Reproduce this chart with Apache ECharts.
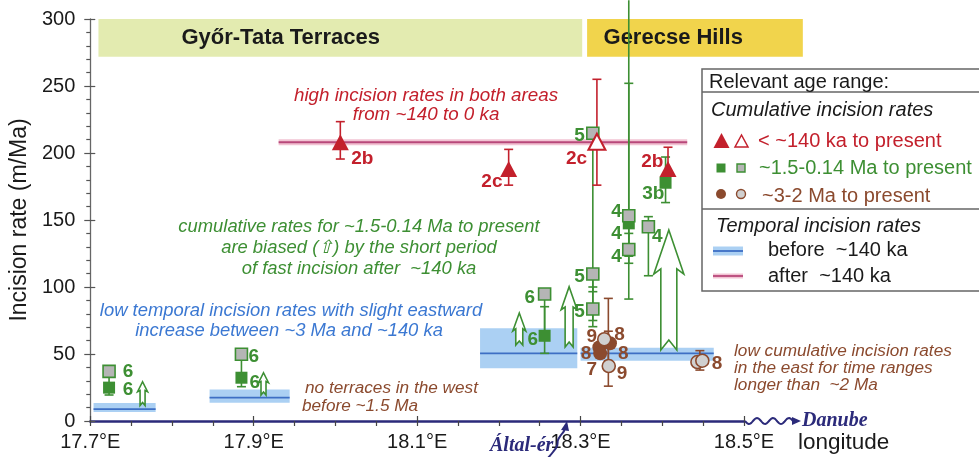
<!DOCTYPE html>
<html><head><meta charset="utf-8">
<script src="https://cdn.jsdelivr.net/npm/echarts@6/dist/echarts.min.js"></script>
<style>html,body{margin:0;padding:0;background:#fff}#c{width:979px;height:457px}</style>
</head><body><div id="c"></div>
<script>
// ---------------- DATA ----------------
const xTickValues = [17.7,17.75,17.8,17.85,17.9,17.95,18.0,18.05,18.1,18.15,18.2,18.25,18.3,18.35,18.4,18.45,18.5];
const xLabelValues = [17.7,17.9,18.1,18.3,18.5];
const yLabelValues = [0,50,100,150,200,250,300];

const regionNames = ['Győr-Tata Terraces','Gerecse Hills'];
const regionX0 = [17.71, 18.308];
const regionX1 = [18.302, 18.572];
const regionY0 = [271.9, 271.9];
const regionY1 = [300, 300];
const regionTextX = [17.933, 18.4134];

// temporal incision rates before ~140 ka (band = range, mid = line)
const bandX0 = [17.704, 17.846, 18.177, 18.300];
const bandX1 = [17.780, 17.944, 18.296, 18.463];
const bandLow = [6.7, 13.6, 39.3, 45.0];
const bandHigh = [13.4, 23.6, 69.2, 54.7];
const bandMid = [8.8, 17.4, 50.5, 50.5];

// temporal incision rate after ~140 ka
const afterX = [17.9305, 18.4305];
const afterRate = [208, 208];

// cumulative rates < ~140 ka to present
const redFilled = [[18.006,208],[18.212,188],[18.407,188]];
const redOpen = [[18.320,208.4]];
const redErr = [[18.006,195.5,223.4],[18.212,176,202.7],[18.320,176,255],[18.407,186,204.3]];
const redLabels = [[18.0329,196,'2b'],[18.1915,178.6,'2c'],[18.2951,195.5,'2c'],[18.3878,193.5,'2b']];

// cumulative rates ~1.5-0.14 Ma to present
const greenFilled = [[17.723,24.9],[17.885,32.3],[18.256,63.6],[18.359,147.5],[18.404,177.8]];
const greenGrey = [[17.723,37],[17.885,49.8],[18.256,94.8],[18.315,214.7],[18.315,109.7],[18.315,83.6],[18.359,153.2],[18.359,128],[18.383,145]];
const greenErr = [[17.723,19.4,37],[17.885,25.6,49.8],[18.256,50.5,94.8],[18.256,63.6,85.3],
  [18.315,70.4,214.7],[18.315,75,100],[18.315,96.5,109.7],
  [18.359,91,314],[18.359,117.7,140],[18.359,123,252],
  [18.383,108.4,152.5],[18.404,163,197]];
const greenLabels = [[17.7463,36.6,'6'],[17.7463,23.1,'6'],[17.9,47.8,'6'],[17.9012,28.4,'6'],
  [18.2378,91.8,'6'],[18.2415,60.4,'6'],[18.2988,212.7,'5'],[18.2988,107.5,'5'],[18.2988,81.3,'5'],
  [18.3439,156,'4'],[18.3439,139.6,'4'],[18.3439,122.4,'4'],[18.3939,137.5,'4'],[18.389,169.4,'3b']];
// open arrows: [x, from, to, size class]
const arrows = [[17.764,11.5,29.3,0],[17.912,19.4,36,0],[18.225,56.7,80.6,1],[18.286,55.2,100.2,2],[18.408,53,142.5,3]];

// cumulative rates ~3-2 Ma to present
const brownFilled = [[18.323,55],[18.324,50.5],[18.336,58]];
const brownGrey = [[18.329,61],[18.3345,41],[18.443,44],[18.449,45]];
const brownErr = [[18.334,26,91.5],[18.334,45,67],[18.446,38,52.5]];
const brownLabels = [[18.3137,62.9,'9'],[18.3476,64.2,'8'],[18.3068,50.5,'8'],[18.3524,50.5,'8'],[18.3137,38.5,'7'],[18.3508,35.6,'9'],[18.467,42.5,'8']];

// ---------------- STYLE ----------------
const SANS = '"Liberation Sans", Arial, sans-serif';
const SERIF = '"Liberation Serif", "Times New Roman", serif';
const RED = '#c3202c', GREEN = '#3d8f33', BROWN = '#8b4a2e', BLUE = '#3b78d2', NAVY = '#2b2a7a';
const ARROW_SIZES = [
  {h:10, hw:5, sw:2.5, n:3},
  {h:18, hw:6.5, sw:3.5, n:4},
  {h:23, hw:8, sw:4, n:5},
  {h:44, hw:15, sw:8, n:10}
];

function errSeries(data, color, z) {
  return {
    type:'custom', data:data, z:z, silent:true, clip:false,
    encode:{x:0, y:[1,2]},
    renderItem:function(params, api){
      const x = api.value(0), lo = api.value(1), hi = api.value(2);
      const t = api.coord([x, hi]), b = api.coord([x, lo]);
      const hw = 4.5;
      const ch = [
        {type:'line', shape:{x1:t[0],y1:t[1],x2:b[0],y2:b[1]}, style:{stroke:color, lineWidth:1.6}},
        {type:'line', shape:{x1:b[0]-hw,y1:b[1],x2:b[0]+hw,y2:b[1]}, style:{stroke:color, lineWidth:1.6}}
      ];
      if (hi <= 300) ch.push({type:'line', shape:{x1:t[0]-hw,y1:t[1],x2:t[0]+hw,y2:t[1]}, style:{stroke:color, lineWidth:1.6}});
      return {type:'group', children:ch};
    }
  };
}
function labelSeries(data, color) {
  return {
    type:'custom', data:data.map(d=>[d[0], d[1]]), z:20, silent:true, clip:false,
    encode:{x:0, y:1},
    renderItem:function(params, api){
      const p = api.coord([api.value(0), api.value(1)]);
      return {type:'text', x:p[0], y:p[1], style:{text:data[params.dataIndex][2], fill:color,
        fontFamily:SANS, fontWeight:'bold', fontSize:19, align:'center', verticalAlign:'middle'}};
    }
  };
}

const chart = echarts.init(document.getElementById('c'), null, {renderer:'canvas'});

const series = [
  // region header boxes
  {
    type:'custom', z:1, silent:true, clip:false,
    data: regionNames.map((n,i)=>[regionX0[i], regionX1[i], regionY0[i], regionY1[i], regionTextX[i]]),
    encode:{x:[0,1,4], y:[2,3]},
    renderItem:function(params, api){
      const i = params.dataIndex;
      const p0 = api.coord([api.value(0), api.value(3)]);
      const p1 = api.coord([api.value(1), api.value(2)]);
      const tx = api.coord([api.value(4), (api.value(2)+api.value(3))/2]);
      return {type:'group', children:[
        {type:'rect', shape:{x:p0[0], y:p0[1], width:p1[0]-p0[0], height:p1[1]-p0[1]},
          style:{fill: i===0 ? '#e3ebb0' : '#f1d44c'}},
        {type:'text', x:tx[0], y:tx[1], style:{text:regionNames[i], fill:'#1a1a1a', fontFamily:SANS,
          fontWeight:'bold', fontSize:22, align:'center', verticalAlign:'middle'}}
      ]};
    }
  },
  // temporal bands
  {
    type:'custom', z:2, silent:true,
    data: bandX0.map((x,i)=>[x, bandX1[i], bandLow[i], bandHigh[i], bandMid[i]]),
    encode:{x:[0,1], y:[2,3,4]},
    renderItem:function(params, api){
      const p0 = api.coord([api.value(0), api.value(3)]);
      const p1 = api.coord([api.value(1), api.value(2)]);
      const m0 = api.coord([api.value(0), api.value(4)]);
      const m1 = api.coord([api.value(1), api.value(4)]);
      return {type:'group', children:[
        {type:'rect', shape:{x:p0[0], y:p0[1], width:p1[0]-p0[0], height:p1[1]-p0[1]}, style:{fill:'#abd0f3'}},
        {type:'line', shape:{x1:m0[0],y1:m0[1],x2:m1[0],y2:m1[1]}, style:{stroke:'#3d6fc4', lineWidth:1.8}}
      ]};
    }
  },
  // after ~140 ka line (halo + line)
  {type:'line', z:3, silent:true, symbol:'none', data: afterX.map((x,i)=>[x, afterRate[i]]),
    lineStyle:{color:'#f2c3d3', width:6}},
  {type:'line', z:4, silent:true, symbol:'none', data: afterX.map((x,i)=>[x, afterRate[i]]),
    lineStyle:{color:'#b8487a', width:2}},
  errSeries(greenErr, GREEN, 5),
  errSeries(redErr, RED, 6),
  errSeries(brownErr, BROWN, 6),
  // open arrows
  {
    type:'custom', z:7, silent:true, data:arrows, encode:{x:0, y:[1,2]},
    renderItem:function(params, api){
      const s = ARROW_SIZES[api.value(3)];
      const b = api.coord([api.value(0), api.value(1)]);
      const t = api.coord([api.value(0), api.value(2)]);
      const cx = b[0], yb = b[1], yt = t[1];
      const barb = s.h*0.12;
      const pts = [[cx,yt],[cx+s.hw,yt+s.h],[cx+s.sw,yt+s.h-barb],[cx+s.sw,yb],[cx,yb-s.n],
        [cx-s.sw,yb],[cx-s.sw,yt+s.h-barb],[cx-s.hw,yt+s.h]];
      return {type:'polygon', shape:{points:pts}, style:{fill:'#fff', stroke:GREEN, lineWidth:1.6}};
    }
  },
  {type:'scatter', z:8, data:greenFilled, symbol:'rect', symbolSize:12, itemStyle:{color:GREEN, opacity:1}},
  {type:'scatter', z:8, data:greenGrey, symbol:'rect', symbolSize:12, itemStyle:{color:'#b5b5b5', borderColor:GREEN, borderWidth:1.6, opacity:1}},
  {type:'scatter', z:9, data:brownFilled, symbol:'circle', symbolSize:14, itemStyle:{color:BROWN, opacity:1}},
  {type:'scatter', z:9, data:brownGrey, symbol:'circle', symbolSize:13, itemStyle:{color:'#d0d0d0', borderColor:BROWN, borderWidth:1.6, opacity:1}},
  {type:'scatter', z:10, data:redFilled, symbol:'triangle', symbolSize:[17,16], itemStyle:{color:RED, opacity:1}},
  {type:'scatter', z:10, data:redOpen, symbol:'triangle', symbolSize:[17,16], itemStyle:{color:'#fff', borderColor:RED, borderWidth:2, opacity:1}},
  labelSeries(greenLabels, GREEN),
  labelSeries(redLabels, RED),
  labelSeries(brownLabels, BROWN)
];

// ---------------- DECORATION / TEXT ----------------
function t(text, x, y, color, size, opts) {
  opts = opts || {};
  return {type:'text', x:x, y:y, z:50, style:{text:text, fill:color, fontFamily:opts.family||SANS,
    fontSize:size, fontStyle:opts.italic?'italic':'normal', fontWeight:opts.bold?'bold':'normal',
    align:opts.align||'left', verticalAlign:'middle'}};
}
const wave = [];
for (let k = 0; k <= 40; k++) { const x = 745 + k*1.2; wave.push([x, 421 + 3*Math.sin(k/40*Math.PI*6)]); }

const graphic = [
  t('high incision rates in both areas', 426, 96, RED, 18.8, {italic:true, align:'center'}),
  t('from ~140 to 0 ka', 426, 115, RED, 18.8, {italic:true, align:'center'}),
  t('cumulative rates for ~1.5-0.14 Ma to present', 359, 227, GREEN, 18.4, {italic:true, align:'center'}),
  t('are biased (\u21e7) by the short period', 359, 248, GREEN, 18.4, {italic:true, align:'center'}),
  t('of fast incision after  ~140 ka', 359, 269, GREEN, 18.4, {italic:true, align:'center'}),
  t('low temporal incision rates with slight eastward', 291, 311, BLUE, 18.4, {italic:true, align:'center'}),
  t('increase between ~3 Ma and ~140 ka', 289, 331, BLUE, 18.4, {italic:true, align:'center'}),
  t('no terraces in the west', 305, 388, BROWN, 17.2, {italic:true}),
  t('before ~1.5 Ma', 302, 406, BROWN, 17.2, {italic:true}),
  t('low cumulative incision rates', 734, 351, BROWN, 17.2, {italic:true}),
  t('in the east for time ranges', 734, 368, BROWN, 17.2, {italic:true}),
  t('longer than  ~2 Ma', 734, 385, BROWN, 17.2, {italic:true}),
  // rivers
  {type:'polyline', z:50, shape:{points:wave}, style:{stroke:NAVY, lineWidth:2, fill:null}},
  {type:'polygon', z:50, shape:{points:[[801,421],[792,417],[792,425]]}, style:{fill:NAVY}},
  t('Danube', 802, 421, NAVY, 20, {italic:true, bold:true, family:SERIF}),
  t('Által-ér', 490, 446, NAVY, 20, {italic:true, bold:true, family:SERIF}),
  {type:'polyline', z:50, shape:{points:[[547,459],[553,452],[557,446],[558,440],[561,435],[564,431],[565,427]], smooth:0.4}, style:{stroke:NAVY, lineWidth:2, fill:null}},
  {type:'polygon', z:50, shape:{points:[[567,421],[561,430],[569,431]]}, style:{fill:NAVY}},
  t('longitude', 798, 443, '#1a1a1a', 22.5),
  // legend box
  {type:'rect', z:40, shape:{x:702, y:69, width:300, height:222}, style:{fill:'#fff', stroke:'#666', lineWidth:1.5}},
  {type:'line', z:41, shape:{x1:702, y1:92, x2:979, y2:92}, style:{stroke:'#666', lineWidth:1.5}},
  {type:'line', z:41, shape:{x1:702, y1:209, x2:979, y2:209}, style:{stroke:'#666', lineWidth:1.5}},
  t('Relevant age range:', 709, 82, '#1a1a1a', 20),
  t('Cumulative incision rates', 711, 110, '#1a1a1a', 20, {italic:true}),
  {type:'polygon', z:50, shape:{points:[[721.5,133],[713.5,148],[729.5,148]]}, style:{fill:RED}},
  {type:'polygon', z:50, shape:{points:[[741.5,135],[735,147],[748,147]]}, style:{fill:'#fff', stroke:RED, lineWidth:1.5}},
  t('< ~140 ka to present', 758, 141, RED, 20),
  {type:'rect', z:50, shape:{x:716.5, y:163.5, width:9, height:9}, style:{fill:GREEN}},
  {type:'rect', z:50, shape:{x:737, y:164, width:8, height:8}, style:{fill:'#b5b5b5', stroke:GREEN, lineWidth:1.4}},
  t('~1.5-0.14 Ma to present', 759, 168, GREEN, 20),
  {type:'circle', z:50, shape:{cx:721, cy:194, r:5}, style:{fill:BROWN}},
  {type:'circle', z:50, shape:{cx:741, cy:194, r:4.5}, style:{fill:'#d0d0d0', stroke:BROWN, lineWidth:1.4}},
  t('~3-2 Ma to present', 762, 196, BROWN, 20),
  t('Temporal incision rates', 716, 226, '#1a1a1a', 20, {italic:true}),
  {type:'rect', z:50, shape:{x:713, y:246.5, width:30, height:9}, style:{fill:'#abd0f3'}},
  {type:'line', z:51, shape:{x1:713, y1:251, x2:743, y2:251}, style:{stroke:'#3d6fc4', lineWidth:1.8}},
  t('before  ~140 ka', 768, 250, '#1a1a1a', 20),
  {type:'line', z:50, shape:{x1:713, y1:276, x2:743, y2:276}, style:{stroke:'#f2c3d3', lineWidth:5}},
  {type:'line', z:51, shape:{x1:713, y1:276, x2:743, y2:276}, style:{stroke:'#b8487a', lineWidth:1.8}},
  t('after  ~140 ka', 768, 276, '#1a1a1a', 20)
];

chart.setOption({
  animation:false,
  backgroundColor:'#fff',
  grid:{left:89, right:235, top:19, bottom:36, containLabel:false},
  xAxis:[{
    type:'value', min:17.7, max:18.5,
    axisLine:{show:true, lineStyle:{color:NAVY, width:2.5}},
    axisTick:{show:true, length:5, customValues:xTickValues, lineStyle:{color:'#444', width:1.2}},
    axisLabel:{customValues:xLabelValues, formatter:function(v){return v.toFixed(1)+'\u00b0E';},
      fontSize:20, color:'#1a1a1a', fontFamily:SANS, margin:11},
    splitLine:{show:false}
  },{
    type:'value', min:17.7, max:18.5, position:'bottom',
    axisLine:{show:false}, axisLabel:{show:false}, splitLine:{show:false},
    axisTick:{show:true, inside:true, length:5, customValues:xLabelValues, lineStyle:{color:'#444', width:1.2}}
  }],
  yAxis:[{
    type:'value', min:0, max:300, interval:50,
    name:'Incision rate (m/Ma)', nameLocation:'middle', nameGap:52, nameRotate:90,
    nameTextStyle:{fontSize:23, color:'#1a1a1a', fontFamily:SANS},
    axisLine:{show:true, lineStyle:{color:'#666', width:1.3}},
    axisTick:{show:true, length:6, lineStyle:{color:'#555', width:1.2}},
    minorTick:{show:true, splitNumber:5, length:4, lineStyle:{color:'#555', width:1.2}},
    axisLabel:{customValues:yLabelValues, fontSize:20, color:'#1a1a1a', fontFamily:SANS, margin:15},
    splitLine:{show:false}, minorSplitLine:{show:false}
  },{
    type:'value', min:0, max:300, interval:50, position:'left',
    axisLine:{show:false}, axisLabel:{show:false}, splitLine:{show:false},
    axisTick:{show:true, inside:true, length:5, lineStyle:{color:'#555', width:1.2}}
  }],
  series:series,
  graphic:graphic
});
</script></body></html>
